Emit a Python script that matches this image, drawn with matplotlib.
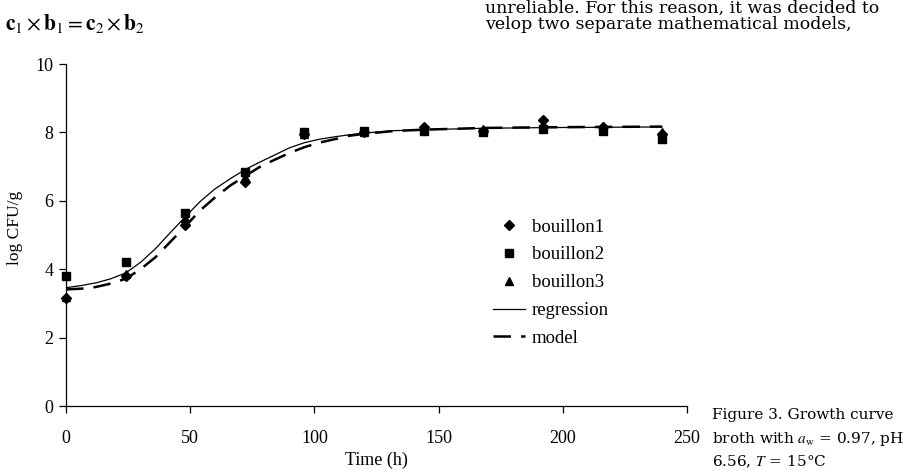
import numpy as np
import matplotlib
matplotlib.use('Agg')
import matplotlib.pyplot as plt

plt.rcParams['font.family'] = ['Liberation Serif', 'DejaVu Serif']
plt.rcParams['mathtext.fontset'] = 'stix'

# sampling times (h)
time = [0, 24, 48, 72, 96, 120, 144, 168, 192, 216, 240]

# measured log CFU/g
bouillon1 = [3.15, 3.80, 5.30, 6.55, 7.95, 8.00, 8.15, 8.05, 8.35, 8.15, 7.95]
bouillon2 = [3.80, 4.20, 5.65, 6.85, 8.00, 8.05, 8.05, 8.00, 8.10, 8.05, 7.80]
bouillon3 = [3.20, 3.85, 5.50, 6.70, 7.95, 8.00, 8.15, 8.10, 8.25, 8.20, 8.00]

# curves
curve_t = [0, 6, 12, 18, 24, 30, 36, 42, 48, 54, 60, 66, 72, 78, 84, 90,
           96, 102, 108, 114, 120, 132, 144, 168, 192, 216, 240]
regression = [3.46, 3.52, 3.60, 3.72, 3.89, 4.20, 4.60, 5.07, 5.53, 5.98, 6.35, 6.64, 6.91, 7.13,
              7.34, 7.55, 7.70, 7.80, 7.87, 7.93, 7.98, 8.05, 8.08, 8.12, 8.14, 8.15, 8.16]
model = [3.41, 3.43, 3.48, 3.58, 3.72, 4.00, 4.35, 4.80, 5.25, 5.72, 6.10, 6.44, 6.72, 6.99,
         7.20, 7.40, 7.57, 7.70, 7.80, 7.90, 7.96, 8.04, 8.08, 8.13, 8.15, 8.16, 8.17]

fig = plt.figure(figsize=(9.07, 4.72), dpi=100)
ax = fig.add_axes([0.0728, 0.1398, 0.6846, 0.7246])

ax.plot(time, bouillon1, linestyle='none', marker='D', ms=5, color='black', label='bouillon1', clip_on=False, zorder=4)
ax.plot(time, bouillon2, linestyle='none', marker='s', ms=6, color='black', label='bouillon2', clip_on=False, zorder=4)
ax.plot(time, bouillon3, linestyle='none', marker='^', ms=6, color='black', label='bouillon3', clip_on=False, zorder=4)
ax.plot(curve_t, regression, '-', color='black', lw=0.9, label='regression')
ax.plot(curve_t, model, color='black', lw=1.8, dashes=(7, 4), label='model')

ax.set_xlim(0, 250)
ax.set_ylim(0, 10)
ax.set_xticks([0, 50, 100, 150, 200, 250])
ax.set_yticks([0, 2, 4, 6, 8, 10])
for s in ['top', 'right']:
    ax.spines[s].set_visible(False)
ax.spines['left'].set_linewidth(0.9)
ax.spines['bottom'].set_linewidth(0.9)
ax.tick_params(direction='out', length=5, width=0.9, labelsize=13)
ax.tick_params(axis='x', pad=12)
ax.tick_params(axis='y', pad=4)
ax.set_xlabel('Time (h)', fontsize=13, labelpad=4)
ax.set_ylabel('log CFU/g', fontsize=12.5)
ax.yaxis.set_label_coords(-0.07, 0.52)

leg = ax.legend(loc='upper left', bbox_to_anchor=(0.5436, 0.537), bbox_transform=fig.transFigure,
                frameon=False, fontsize=13.5, handlelength=1.7, handletextpad=0.37,
                labelspacing=0.57, borderaxespad=0, borderpad=0)

# surrounding page text
fig.text(0.005, 0.937, r'$\mathbf{c}_1 \times \mathbf{b}_1 = \mathbf{c}_2 \times \mathbf{b}_2$',
         fontsize=15.5, ha='left', va='baseline')
fig.text(0.535, 0.9725, 'unreliable. For this reason, it was decided to',
         family='DejaVu Serif', fontsize=12.5, ha='left', va='baseline')
fig.text(0.535, 0.9386, 'velop two separate mathematical models,',
         family='DejaVu Serif', fontsize=12.5, ha='left', va='baseline')
fig.text(0.785, 0.112, 'Figure 3. Growth curve',
         family='DejaVu Serif', fontsize=11, ha='left', va='baseline')
fig.text(0.785, 0.0614, r'broth with $a_{\rm w}$ = 0.97, pH',
         family='DejaVu Serif', fontsize=11, ha='left', va='baseline')
fig.text(0.785, 0.0127, r'6.56, $T$ = 15°C',
         family='DejaVu Serif', fontsize=11, ha='left', va='baseline')

fig.savefig('out.png', dpi=100)
